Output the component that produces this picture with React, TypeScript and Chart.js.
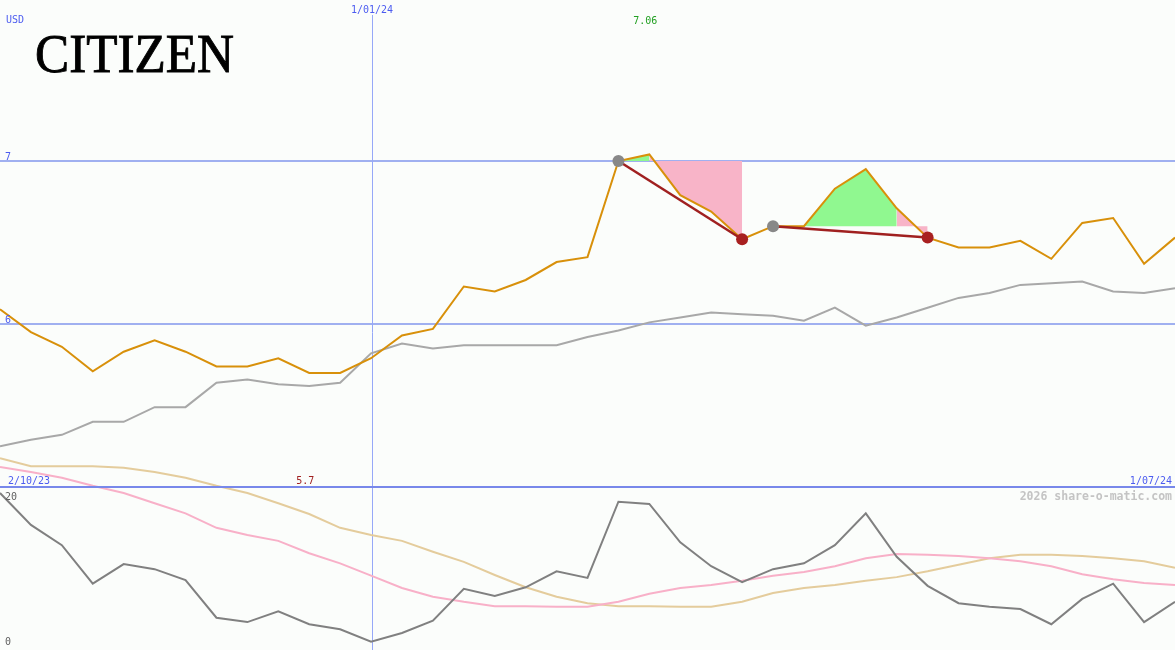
import { useEffect, useRef } from 'react';
import { Chart, registerables } from 'chart.js';

Chart.register(...registerables);

// ---- data (weekly, index 0..38) ----
const weekIndex = Array.from({ length: 39 }, (_, i) => i);
const priceClose = [6.09, 5.95, 5.86, 5.71, 5.83, 5.90, 5.83, 5.74, 5.74, 5.79, 5.70, 5.70, 5.79, 5.93, 5.97, 6.23, 6.20, 6.27, 6.38, 6.41, 7.00, 7.04, 6.79, 6.69, 6.52, 6.60, 6.60, 6.83, 6.95, 6.71, 6.53, 6.47, 6.47, 6.51, 6.40, 6.62, 6.65, 6.37, 6.53];
const priceAvg = [5.25, 5.29, 5.32, 5.40, 5.40, 5.49, 5.49, 5.64, 5.66, 5.63, 5.62, 5.64, 5.82, 5.88, 5.85, 5.87, 5.87, 5.87, 5.87, 5.92, 5.96, 6.01, 6.04, 6.07, 6.06, 6.05, 6.02, 6.10, 5.99, 6.04, 6.10, 6.16, 6.19, 6.24, 6.25, 6.26, 6.20, 6.19, 6.22];
const oscMain = [21.1, 16.7, 13.9, 8.6, 11.3, 10.6, 9.1, 3.9, 3.3, 4.8, 3.0, 2.3, 0.6, 1.8, 3.5, 7.9, 6.9, 8.1, 10.3, 9.4, 19.9, 19.6, 14.3, 11.0, 8.8, 10.6, 11.4, 13.9, 18.3, 12.3, 8.3, 5.9, 5.4, 5.1, 3.0, 6.5, 8.6, 3.3, 6.1];
const oscPink = [24.7, 24.0, 23.2, 22.1, 21.1, 19.7, 18.3, 16.3, 15.3, 14.5, 12.8, 11.4, 9.7, 8.0, 6.8, 6.1, 5.5, 5.5, 5.4, 5.4, 6.1, 7.2, 8.0, 8.4, 9.0, 9.7, 10.2, 11.0, 12.1, 12.7, 12.6, 12.4, 12.1, 11.7, 11.0, 9.9, 9.2, 8.7, 8.4];
const oscTan = [25.9, 24.8, 24.8, 24.8, 24.6, 24.0, 23.2, 22.1, 21.1, 19.7, 18.2, 16.3, 15.3, 14.5, 13.0, 11.6, 9.8, 8.1, 6.8, 5.9, 5.5, 5.5, 5.4, 5.4, 6.1, 7.3, 8.0, 8.4, 9.0, 9.5, 10.3, 11.2, 12.1, 12.6, 12.6, 12.4, 12.1, 11.7, 10.8];

// patterns: start (grey dot), split (green -> pink), end (red dot)
const patternStart = [20, 25];
const patternSplit = [21, 29];
const patternEnd = [24, 30];

// labels
const priceTicks = [7, 6];
const oscTicks = [20, 0];
const panelSplitValue = 5;
const dateMarkIndex = [12];
const dateMarkLabels = ['1/01/24'];
const startDateLabel = '2/10/23';
const endDateLabel = '1/07/24';
const highIndex = 21;
const highLabel = '7.06';
const lowIndex = 10;
const lowLabel = '5.7';
const currencyLabel = 'USD';
const titleText = 'CITIZEN';
const watermark = '2026 share-o-matic.com';

const pts = (arr: number[], from = 0, to = arr.length - 1) =>
  weekIndex.slice(from, to + 1).map((i) => ({ x: i, y: arr[i] }));

const MONO = '"DejaVu Sans Mono", monospace';

const overlayPlugin = {
  id: 'overlay',
  beforeDraw(chart: any) {
    const { ctx, width, height } = chart;
    ctx.save();
    ctx.fillStyle = '#fbfdfb';
    ctx.fillRect(0, 0, width, height);
    ctx.restore();
  },
  beforeDatasetsDraw(chart: any) {
    const { ctx, width, height } = chart;
    const xs = chart.scales.x;
    const ys = chart.scales.y;
    ctx.save();
    ctx.strokeStyle = '#a0b0f0';
    ctx.lineWidth = 2;
    priceTicks.forEach((v) => {
      const y = Math.round(ys.getPixelForValue(v));
      ctx.beginPath();
      ctx.moveTo(0, y);
      ctx.lineTo(width, y);
      ctx.stroke();
    });
    ctx.lineWidth = 1;
    ctx.strokeStyle = '#96a8f8';
    dateMarkIndex.forEach((i) => {
      const x = Math.ceil(xs.getPixelForValue(i)) + 0.5;
      ctx.beginPath();
      ctx.moveTo(x, 15);
      ctx.lineTo(x, height);
      ctx.stroke();
    });
    ctx.restore();
  },
  afterDatasetsDraw(chart: any) {
    const { ctx, width } = chart;
    const xs = chart.scales.x;
    const ys = chart.scales.y;
    const y2 = chart.scales.y2;
    ctx.save();
    // panel separator
    const sy = Math.round(ys.getPixelForValue(panelSplitValue));
    ctx.strokeStyle = '#7888ea';
    ctx.lineWidth = 2;
    ctx.beginPath();
    ctx.moveTo(0, sy);
    ctx.lineTo(width, sy);
    ctx.stroke();

    ctx.font = `10px ${MONO}`;
    ctx.textBaseline = 'alphabetic';
    ctx.fillStyle = '#4c5cf0';
    ctx.textAlign = 'left';
    ctx.fillText(currencyLabel, 6, 23);
    priceTicks.forEach((v) => {
      ctx.fillText(String(v), 5, ys.getPixelForValue(v) - 1);
    });
    ctx.fillText(startDateLabel, 8, sy - 3);
    ctx.textAlign = 'right';
    ctx.fillText(endDateLabel, width - 3, sy - 3);
    ctx.textAlign = 'center';
    dateMarkIndex.forEach((i, k) => {
      ctx.fillText(dateMarkLabels[k], Math.ceil(xs.getPixelForValue(i)), 13);
    });
    ctx.fillStyle = '#22a022';
    ctx.fillText(highLabel, xs.getPixelForValue(highIndex) - 4, 24);
    ctx.fillStyle = '#a02020';
    ctx.fillText(lowLabel, xs.getPixelForValue(lowIndex) - 4, sy - 3);

    ctx.textAlign = 'left';
    ctx.fillStyle = '#606060';
    oscTicks.forEach((v) => {
      ctx.fillText(String(v), 5, y2.getPixelForValue(v) - 1);
    });

    ctx.font = `bold 11.5px ${MONO}`;
    ctx.fillStyle = '#c4c4c4';
    ctx.textAlign = 'right';
    ctx.fillText(watermark, width - 3, sy + 13);

    // title
    ctx.font = '55px "Liberation Serif", serif';
    ctx.fillStyle = '#000000';
    ctx.strokeStyle = '#000000';
    ctx.lineWidth = 0.9;
    ctx.textAlign = 'left';
    const w = ctx.measureText(titleText).width;
    ctx.translate(35, 72);
    ctx.scale(199 / w, 1);
    ctx.fillText(titleText, 0, 0);
    ctx.strokeText(titleText, 0, 0);
    ctx.restore();
  },
};

export default function App() {
  const ref = useRef<HTMLCanvasElement>(null);
  useEffect(() => {
    document.body.style.margin = '0';
    const canvas = ref.current!;
    const datasets: any[] = [];

    patternStart.forEach((s, k) => {
      const level = priceClose[s];
      datasets.push({
        data: pts(priceClose, s, patternSplit[k]),
        yAxisID: 'y',
        borderWidth: 0,
        borderColor: 'rgba(0,0,0,0)',
        backgroundColor: '#90f890',
        fill: { value: level },
        pointRadius: 0,
        order: 20,
      });
      datasets.push({
        data: pts(priceClose, patternSplit[k], patternEnd[k]),
        yAxisID: 'y',
        borderWidth: 0,
        borderColor: 'rgba(0,0,0,0)',
        backgroundColor: '#f8b4c8',
        fill: { value: level },
        pointRadius: 0,
        order: 21,
      });
    });

    datasets.push(
      { data: pts(oscTan), yAxisID: 'y2', borderColor: '#e4cc9c', borderWidth: 2, order: 12 },
      { data: pts(oscPink), yAxisID: 'y2', borderColor: '#f8b0c8', borderWidth: 2, order: 11 },
      { data: pts(oscMain), yAxisID: 'y2', borderColor: '#808080', borderWidth: 2, order: 10 },
      { data: pts(priceAvg), yAxisID: 'y', borderColor: '#a8a8a8', borderWidth: 2, order: 5 },
      { data: pts(priceClose), yAxisID: 'y', borderColor: '#d8900a', borderWidth: 2, order: 4 },
    );

    patternStart.forEach((s, k) => {
      const e = patternEnd[k];
      datasets.push({
        data: [
          { x: s, y: priceClose[s] },
          { x: e, y: priceClose[e] },
        ],
        yAxisID: 'y',
        borderColor: '#a02020',
        borderWidth: 2.5,
        pointRadius: 6,
        pointBorderWidth: 0,
        pointBackgroundColor: ['#888888', '#a82020'],
        order: 1,
      });
    });

    datasets.forEach((d) => {
      d.tension = 0;
      if (d.pointRadius === undefined) d.pointRadius = 0;
      if (d.fill === undefined) d.fill = false;
    });

    const chart = new Chart(canvas, {
      type: 'line',
      data: { datasets },
      options: {
        responsive: false,
        animation: false,
        devicePixelRatio: 1,
        events: [],
        layout: { padding: 0, autoPadding: false },
        plugins: { legend: { display: false }, tooltip: { enabled: false } },
        scales: {
          x: { type: 'linear', min: 0, max: 38, display: false },
          y: { type: 'linear', min: 4.0, max: 7.9877, display: false },
          y2: { type: 'linear', min: -0.55, max: 89.1, display: false },
        },
      },
      plugins: [overlayPlugin],
    } as any);
    return () => chart.destroy();
  }, []);
  return (
    <canvas
      ref={ref}
      width={1175}
      height={650}
      style={{ display: 'block', width: 1175, height: 650 }}
    />
  );
}
